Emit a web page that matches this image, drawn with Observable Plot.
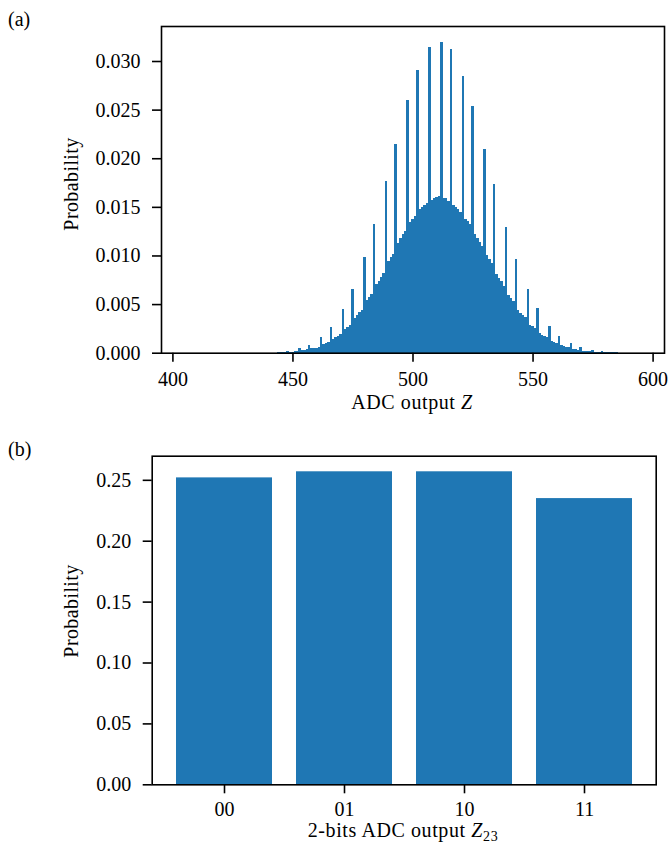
<!DOCTYPE html>
<html>
<head>
<meta charset="utf-8">
<script src="https://cdn.jsdelivr.net/npm/d3@7"></script>
<script src="https://cdn.jsdelivr.net/npm/@observablehq/plot@0.6"></script>
<style>
  html, body { margin: 0; padding: 0; background: #fff; }
  #wrap { width: 670px; height: 844px; position: relative; }
  svg { display: block; }
</style>
</head>
<body>
<div id="wrap"></div>
<script>
// ---------- Panel (a): histogram of ADC output Z ----------
const adcFirst = 443; // first ADC code with a visible bar (codes are consecutive)
// probability for each ADC code, in units of 1e-3
const adcProbPerMille = [
  0.02,0.03,0.03,0.04,0.05,0.17,0.08,0.10,0.15,0.15,   // 443-452
  0.45,0.25,0.25,0.35,0.75,0.45,0.45,0.45,0.55,1.6,    // 453-462
  0.85,0.95,1.05,2.6,1.45,1.6,1.7,1.9,4.5,2.4,         // 463-472
  2.6,2.9,6.5,3.6,3.9,4.2,4.4,9.8,5.4,5.7,             // 473-482
  6.0,13.2,7.1,7.4,7.8,8.2,17.7,9.4,9.8,10.2,          // 483-492
  21.5,11.3,11.8,12.2,12.5,26.0,13.4,13.8,14.1,29.1,   // 493-502
  14.8,15.0,15.2,15.4,31.4,15.7,15.9,16.0,16.1,32.0,   // 503-512
  15.9,15.9,15.6,31.2,15.2,15.0,14.8,14.5,28.5,13.8,   // 513-522
  13.5,13.2,25.4,12.2,11.8,11.4,11.0,21.0,10.0,9.6,    // 523-532
  9.2,17.3,8.1,7.7,7.4,6.9,12.9,5.9,5.6,5.3,           // 533-542
  9.6,4.4,4.1,3.9,3.7,6.5,2.9,2.7,2.5,4.6,             // 543-552
  2.0,1.8,1.7,1.6,2.7,1.2,1.1,1.0,1.7,0.8,             // 553-562
  0.7,0.6,0.6,1.0,0.4,0.4,0.3,0.6,0.2,0.2,             // 563-572
  0.2,0.2,0.3,0.08,0.08,0.06,0.17,0.05,0.05,0.08,      // 573-582
  0.08,0.04,0.03                                        // 583-585
];
const xTicksA = [400, 450, 500, 550, 600];
const yTicksA = [0, 0.005, 0.010, 0.015, 0.020, 0.025, 0.030];

// ---------- Panel (b): 2-bit ADC output ----------
const codes2bit = ["00", "01", "10", "11"];
const prob2bit = [0.252, 0.257, 0.257, 0.235];
const yTicksB = [0, 0.05, 0.10, 0.15, 0.20, 0.25];

const BLUE = "#1f77b4";
const FONT = "'Liberation Serif', 'Times New Roman', serif";

const histData = adcProbPerMille.map((v, i) => ({z: adcFirst + i, p: v / 1000}));
const barData = codes2bit.map((c, i) => ({code: c, p: prob2bit[i]}));

const commonStyle = {fontFamily: FONT, fontSize: "20px", color: "black", background: "white", overflow: "visible"};

const plotA = Plot.plot({
  width: 670, height: 420,
  marginLeft: 161, marginRight: 6, marginTop: 26, marginBottom: 67.3,
  style: commonStyle,
  x: {domain: [395.25, 604.75]},
  y: {domain: [0, 0.0336]},
  marks: [
    Plot.rectY(histData, {x1: d => d.z - 0.5, x2: d => d.z + 0.5, y: "p", fill: BLUE, shapeRendering: "crispEdges"}),
    Plot.axisX({ticks: xTicksA, tickFormat: d3.format("d"), tickSize: 9, tickPadding: 10, strokeWidth: 1.6, label: null}),
    Plot.axisY({ticks: yTicksA, tickFormat: d3.format(".3f"), tickSize: 9, tickPadding: 12, strokeWidth: 1.6, label: null}),
    Plot.frame({stroke: "black", strokeWidth: 1.6})
  ]
});

const plotB = Plot.plot({
  width: 670, height: 424,
  marginLeft: 151.7, marginRight: 14.3, marginTop: 35.7, marginBottom: 59.7,
  style: commonStyle,
  x: {domain: codes2bit, paddingInner: 0.2, paddingOuter: 0.19},
  y: {domain: [0, 0.2698]},
  marks: [
    Plot.barY(barData, {x: "code", y: "p", fill: BLUE}),
    Plot.axisX({tickSize: 9, tickPadding: 8, strokeWidth: 1.6, label: null}),
    Plot.axisY({ticks: yTicksB, tickFormat: d3.format(".2f"), tickSize: 9, tickPadding: 12, strokeWidth: 1.6, label: null}),
    Plot.frame({stroke: "black", strokeWidth: 1.6})
  ]
});

const wrap = document.getElementById("wrap");
wrap.appendChild(plotA);
wrap.appendChild(plotB);

function addText(svg, x, y, parts, opts = {}) {
  const t = d3.select(svg).append("text")
    .attr("font-family", FONT).attr("font-size", 20).attr("fill", "black")
    .attr("letter-spacing", opts.spacing || 0)
    .attr("text-anchor", opts.anchor || "start");
  if (opts.rotate) t.attr("transform", `translate(${x},${y}) rotate(${opts.rotate})`);
  else t.attr("x", x).attr("y", y);
  for (const p of parts) {
    const s = t.append("tspan").text(p.text);
    if (p.italic) s.attr("font-style", "italic");
    if (p.sub) s.attr("font-size", 14).attr("dy", 3.5);
  }
  return t;
}

// Panel (a) texts
addText(plotA, 8, 26, [{text: "(a)"}]);
addText(plotA, 78, 184, [{text: "Probability"}], {anchor: "middle", rotate: -90, spacing: 0.4});
addText(plotA, 412, 409, [{text: "ADC output "}, {text: "Z", italic: true}], {anchor: "middle", spacing: 0.6});

// Panel (b) texts
addText(plotB, 8, 36, [{text: "(b)"}]);
addText(plotB, 78, 191, [{text: "Probability"}], {anchor: "middle", rotate: -90, spacing: 0.4});
addText(plotB, 403, 417, [{text: "2-bits ADC output "}, {text: "Z", italic: true}, {text: "23", sub: true}], {anchor: "middle", spacing: 0.6});
</script>
</body>
</html>
